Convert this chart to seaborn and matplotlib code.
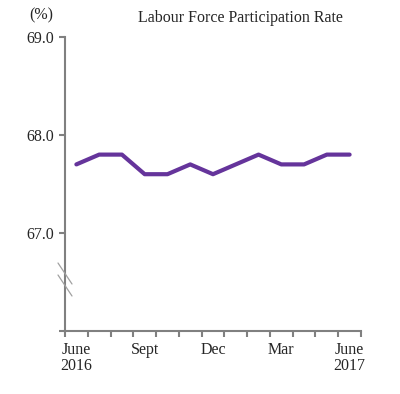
import matplotlib
matplotlib.use("Agg")
import matplotlib.pyplot as plt
from matplotlib.lines import Line2D
import seaborn as sns
import pandas as pd

months = ["Jun16", "Jul16", "Aug16", "Sep16", "Oct16", "Nov16", "Dec16",
          "Jan17", "Feb17", "Mar17", "Apr17", "May17", "Jun17"]
rate = [67.7, 67.8, 67.8, 67.6, 67.6, 67.7, 67.6, 67.7, 67.8, 67.7, 67.7, 67.8, 67.8]
tick_pos = [0, 3, 6, 9, 12]
tick_labels = ["June\n2016", "Sept", "Dec", "Mar", "June\n2017"]
y_ticks = [66.0, 67.0, 68.0, 69.0]
y_labels = ["", "67.0", "68.0", "69.0"]
title = "Labour Force Participation Rate"

sns.set_style("white")
plt.rcParams["font.family"] = ["Liberation Serif", "DejaVu Serif"]
FS = 11.5

df = pd.DataFrame({"idx": range(len(months)), "month": months, "rate": rate})

fig = plt.figure(figsize=(4.0, 3.94), dpi=100)
ax = fig.add_axes([0.1625, 0.16, 0.74, 0.746])
sns.lineplot(data=df, x="idx", y="rate", ax=ax, color="#65349b", linewidth=3.0)

ax.set_xlim(-0.5, 12.5)
ax.set_ylim(66.0, 69.0)
ax.set_xlabel("")
ax.set_ylabel("")

gray = "#808080"
for s in ["top", "right"]:
    ax.spines[s].set_visible(False)
for s in ["left", "bottom"]:
    ax.spines[s].set_color(gray)
    ax.spines[s].set_linewidth(1.5)

ax.set_yticks(y_ticks)
ax.set_yticklabels(y_labels, fontsize=FS)
ax.tick_params(axis="y", direction="out", length=4, width=1.5, color=gray, pad=4, left=True)

ax.set_xticks(tick_pos)
ax.set_xticklabels(tick_labels, fontsize=FS, linespacing=1.0)
ax.set_xticks([i - 0.5 for i in range(14)], minor=True)
ax.tick_params(axis="x", which="major", length=0, pad=8)
ax.tick_params(axis="x", which="minor", direction="out", length=4, width=1.5, color=gray, bottom=True)

# axis break marks
for y0 in (263, 275):
    fig.add_artist(Line2D([58 / 400, 72 / 400], [1 - y0 / 394, 1 - (y0 + 21) / 394],
                          color="#a0a0a0", lw=0.9))

fig.text(41 / 400, 1 - 15 / 394, "(%)", ha="center", va="center", fontsize=FS)
fig.text(240 / 400, 1 - 18 / 394, title, ha="center", va="center", fontsize=FS)

fig.savefig("out.png", dpi=100)
